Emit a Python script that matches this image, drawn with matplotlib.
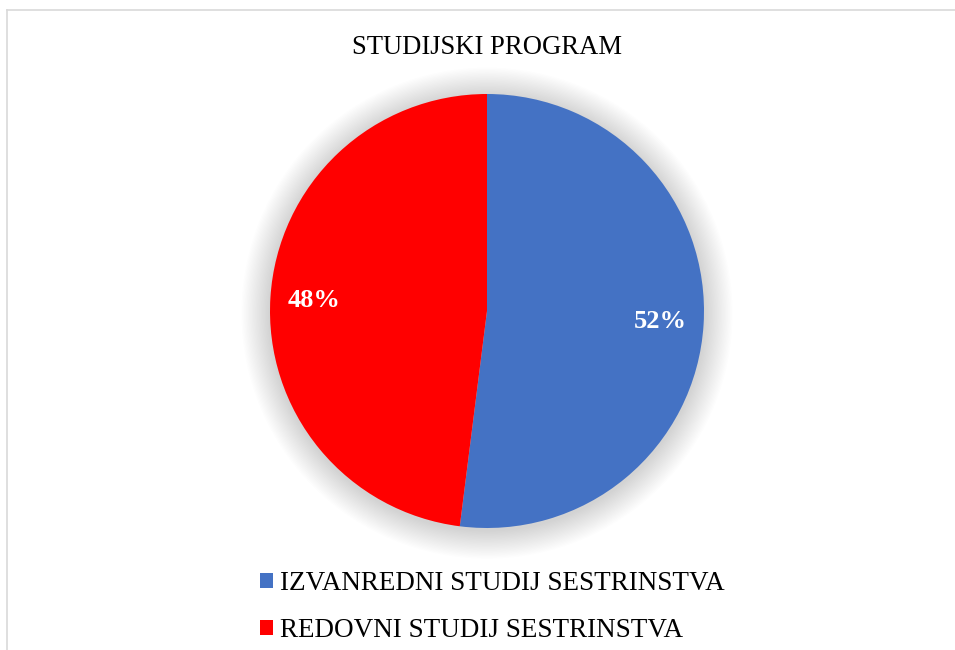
import numpy as np
import matplotlib
matplotlib.use("Agg")
import matplotlib.pyplot as plt
from matplotlib.lines import Line2D
from matplotlib.patches import Circle

plt.rcParams['font.family'] = ['Liberation Serif', 'DejaVu Serif']

#data
categories = ["IZVANREDNI STUDIJ SESTRINSTVA", "REDOVNI STUDIJ SESTRINSTVA"]
shares = [52, 48]
colors = ["#4472C4", "#FF0000"]
title = "STUDIJSKI PROGRAM"

W, H = 955, 650
fig = plt.figure(figsize=(W / 100, H / 100), dpi=100)

#pie axes, centre (487, 311) px, radius 217 px
cx, cy, r = 487, 311, 217
ax = fig.add_axes([(cx - r) / W, (H - cy - r) / H, 2 * r / W, 2 * r / H])

#soft shadow around the pie
for k in range(22):
    ax.add_patch(Circle((0, -0.01), 1 + 0.006 * (k + 1), color="black",
                        alpha=0.006, lw=0, clip_on=False, zorder=0))

wedges, texts, autotexts = ax.pie(shares, colors=colors, startangle=90,
                                  counterclock=False, autopct="%1.0f%%",
                                  pctdistance=0.8,
                                  wedgeprops=dict(linewidth=0),
                                  textprops=dict(fontsize=19))
for t in autotexts:
    t.set_color("white")
    t.set_fontweight("bold")
    t.set_va("center")
for w in wedges:
    w.set_zorder(2)
ax.set_xlim(-1, 1)
ax.set_ylim(-1, 1)
ax.set_aspect("equal")
ax.axis("off")

fig.text(cx / W, 1 - 47 / H, title, ha="center", va="center", fontsize=19.2)

fig.legend(wedges, categories, loc="upper left",
           bbox_to_anchor=(260 / W, 1 - 571 / H), frameon=False,
           fontsize=19.5, handlelength=0.48, handleheight=0.48,
           handletextpad=0.26, labelspacing=0.83, borderpad=0,
           borderaxespad=0)

#chart area border (top and left edges visible)
fig.add_artist(Line2D([7 / W, 1], [1 - 10 / H, 1 - 10 / H],
                      transform=fig.transFigure, color="#D9D9D9", lw=1.2))
fig.add_artist(Line2D([7 / W, 7 / W], [0, 1 - 10 / H],
                      transform=fig.transFigure, color="#D9D9D9", lw=1.2))

fig.savefig("out.png", dpi=100)
